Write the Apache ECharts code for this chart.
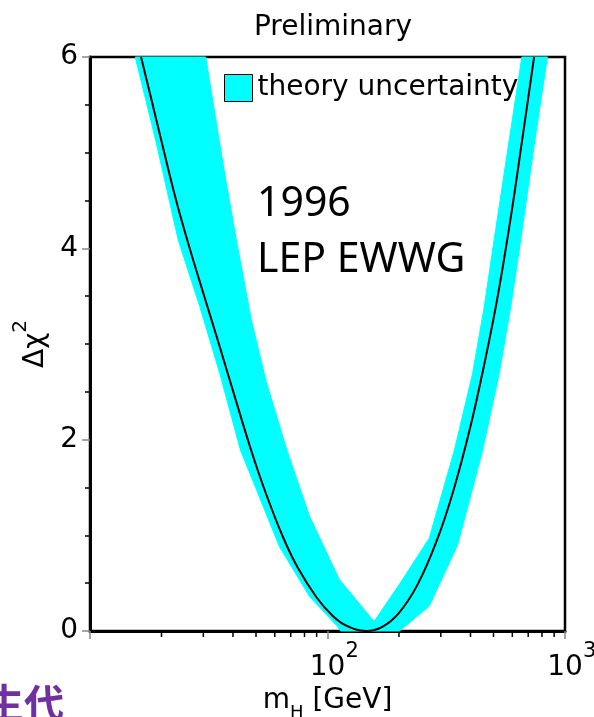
<!DOCTYPE html>
<html>
<head>
<meta charset="utf-8">
<script src="https://cdn.jsdelivr.net/npm/echarts@6/dist/echarts.min.js"></script>
<style>html,body{margin:0;padding:0;background:#fff;}#c{width:594px;height:717px;}</style>
</head>
<body>
<div id="c"></div>
<script>
// ---- data (mH in GeV, delta chi^2) ----
const centralLine = [[16.4,6.0],[18,5.59],[20,5.12],[23,4.51],[26,4.04],[30,3.53],[35,2.99],[40,2.51],[47.7,1.89],[55,1.44],[65,0.98],[75,0.66],[90,0.35],[105,0.16],[120,0.056],[145,0.0],[170,0.044],[200,0.19],[240,0.49],[290,0.96],[340,1.48],[400,2.14],[460,2.82],[520,3.49],[590,4.31],[660,5.13],[741,6.0]];
const bandOuterLeft = [[15.5,6.0],[18.9,5.13],[23.5,4.09],[29.0,3.39],[35.2,2.69],[43.0,1.89],[62.8,0.88],[84.0,0.36],[110,0.05],[113.5,0.0]];
const bandOuterRight = [[201,0.0],[268,0.26],[353,0.90],[450,1.89],[528,2.69],[591,3.39],[651,4.09],[747,5.13],[843,6.0]];
const bandInnerRight = [[658,6.0],[582,5.13],[503,4.09],[457,3.39],[408,2.69],[342,1.89],[268,0.97],[201,0.49],[157,0.10]];
const bandInnerLeft = [[112,0.54],[84,1.20],[67.5,1.89],[55,2.62],[47.8,3.25],[41.3,4.09],[36.5,4.85],[30.7,6.0]];
const xMinorTicks = [20,30,40,50,60,70,80,90,200,300,400,500,600,700,800,900];
const xLabelBase = {100: '10', 1000: '10'};
const xLabelExp = {100: '2', 1000: '3'};
const yTicks = [0, 2, 4, 6];
const legendName = 'theory uncertainty';

const bandOutline = bandOuterLeft.concat(bandOuterRight, bandInnerRight, bandInnerLeft);
const SANS = 'DejaVu Sans';

const chart = echarts.init(document.getElementById('c'), null, {renderer: 'canvas'});
chart.setOption({
  animation: false,
  backgroundColor: '#fff',
  title: {
    text: 'Preliminary', left: 328, top: 9, textAlign: 'center',
    textStyle: {fontFamily: SANS, fontSize: 28, fontWeight: 'normal', color: '#000'}
  },
  legend: {
    left: 224, top: 74, padding: 0, itemGap: 0, itemWidth: 28, itemHeight: 27,
    selectedMode: false,
    textStyle: {fontFamily: SANS, fontSize: 28, color: '#000'},
    data: [{name: legendName, icon: 'rect', itemStyle: {color: '#00ffff', borderColor: '#000', borderWidth: 1}}]
  },
  grid: {left: 90, top: 57, right: 29, bottom: 86, outerBoundsMode: 'none', containLabel: false,
    show: true, borderColor: '#000', borderWidth: 2.5, backgroundColor: 'transparent'},
  xAxis: [{
    type: 'log', logBase: 10, min: 10, max: 1000, position: 'bottom',
    name: '{n|m}{sub|H}{n| [GeV]}', nameLocation: 'middle', nameGap: 56, nameMoveOverlap: false,
    nameTextStyle: {
      rich: {
        n: {fontFamily: SANS, fontSize: 28, color: '#000', verticalAlign: 'bottom', padding: [0, 0, 7, 0]},
        sub: {fontFamily: SANS, fontSize: 18, color: '#000', verticalAlign: 'bottom'}
      }
    },
    axisLine: {show: true, lineStyle: {color: '#000', width: 3}},
    axisTick: {show: true, length: 8, lineStyle: {color: '#888', width: 1.5}},
    splitLine: {show: false},
    minorTick: {show: false},
    axisLabel: {
      margin: 23, fontFamily: SANS, fontSize: 28, color: '#000',
      formatter: v => xLabelBase[Math.round(v)] || ''
    }
  }, {
    type: 'log', logBase: 10, min: 10, max: 1000, position: 'bottom',
    axisLine: {show: false}, axisTick: {show: false}, splitLine: {show: false},
    axisLabel: {
      margin: 10, fontFamily: SANS, fontSize: 21, color: '#000', align: 'left', padding: [0, 0, 0, 18],
      formatter: v => xLabelExp[Math.round(v)] || ''
    }
  }],
  yAxis: {
    type: 'value', min: 0, max: 6, interval: 2,
    name: '{n|Δχ}{s|2}', nameLocation: 'middle', nameGap: 33, nameRotate: 90,
    nameTextStyle: {
      rich: {
        n: {fontFamily: SANS, fontSize: 28, color: '#000', verticalAlign: 'bottom'},
        s: {fontFamily: SANS, fontSize: 20, color: '#000', verticalAlign: 'bottom', padding: [0, 0, 18, 0]}
      }
    },
    axisLine: {show: true, lineStyle: {color: '#000', width: 3}},
    axisTick: {show: true, length: 8, lineStyle: {color: '#888', width: 1.5}},
    minorTick: {show: true, splitNumber: 4, length: 5, lineStyle: {color: '#000', width: 1.5}},
    splitLine: {show: false},
    axisLabel: {margin: 12, fontFamily: SANS, fontSize: 28, color: '#000',
      formatter: v => (yTicks.indexOf(v) >= 0 ? String(v) : '')}
  },
  graphic: [
    {type: 'text', left: 257, top: 176, z: 10,
      style: {text: '1996\nLEP EWWG', fontFamily: 'Noto Sans', fontSize: 41, lineHeight: 56, fill: '#000'}},
    {type: 'text', left: -16, top: 683, z: 10,
      style: {text: '生代', fontFamily: 'Noto Sans CJK SC', fontSize: 40, fontWeight: 'bold', fill: '#7030A0'}}
  ],
  series: [
    {
      name: legendName, type: 'custom', z: 2, silent: true,
      encode: {x: 0, y: 1},
      data: bandOutline,
      renderItem: function (params, api) {
        if (params.dataIndex !== 0) return {type: 'group', children: []};
        const pts = bandOutline.map(p => api.coord(p));
        return {type: 'polygon', shape: {points: pts}, style: {fill: '#00ffff', stroke: '#00ffff', lineWidth: 1}};
      }
    },
    {
      name: 'central', type: 'line', z: 5, silent: true,
      data: centralLine, showSymbol: false, symbol: 'none', smooth: 0.4,
      lineStyle: {color: '#000', width: 2}
    },
    {
      name: 'xminor', type: 'custom', z: 6, silent: true, clip: false,
      encode: {x: 0, y: 1},
      data: xMinorTicks.map(v => [v, 0]),
      renderItem: function (params, api) {
        const p = api.coord([api.value(0), 0]);
        return {type: 'line', shape: {x1: p[0], y1: p[1] + 1.5, x2: p[0], y2: p[1] + 6},
          style: {stroke: '#000', lineWidth: 1.5}};
      }
    }
  ]
});
</script>
</body>
</html>
